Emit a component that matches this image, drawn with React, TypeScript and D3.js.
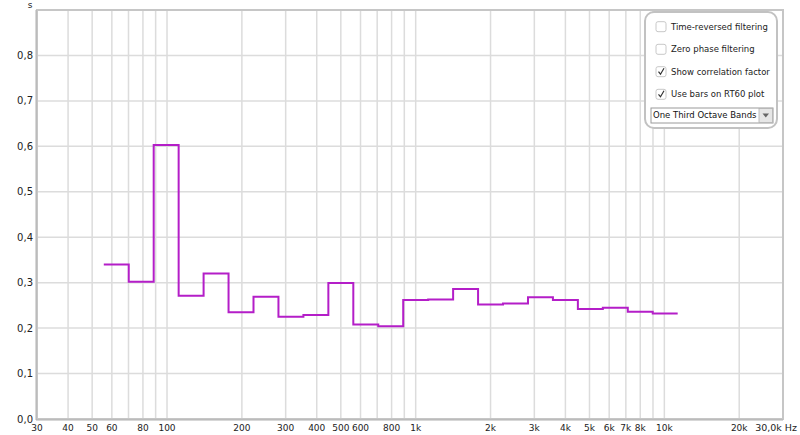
import React from "react";
import * as d3 from "d3";

const bandLabels = ["63", "80", "100", "125", "160", "200", "250", "315", "400", "500", "630", "800", "1k", "1.25k", "1.6k", "2k", "2.5k", "3.15k", "4k", "5k", "6.3k", "8k", "10k"];
const bandIndex = [-12, -11, -10, -9, -8, -7, -6, -5, -4, -3, -2, -1, 0, 1, 2, 3, 4, 5, 6, 7, 8, 9, 10];
const rt60 = [0.340, 0.302, 0.603, 0.271, 0.320, 0.235, 0.269, 0.225, 0.229, 0.299, 0.208, 0.204, 0.262, 0.263, 0.286, 0.252, 0.254, 0.268, 0.262, 0.242, 0.245, 0.236, 0.232];

const gridFreqs = [40, 50, 60, 70, 80, 90, 100, 200, 300, 400, 500, 600, 700, 800, 900, 1000, 2000, 3000, 4000, 5000, 6000, 7000, 8000, 9000, 10000, 20000];
const xTickValues = [30, 40, 50, 60, 80, 100, 200, 300, 400, 500, 600, 800, 1000, 2000, 3000, 4000, 5000, 6000, 7000, 8000, 10000, 20000];
const xTickLabels = ["30", "40", "50", "60", "80", "100", "200", "300", "400", "500", "600", "800", "1k", "2k", "3k", "4k", "5k", "6k", "7k", "8k", "10k", "20k"];
const yTickValues = [0, 0.1, 0.2, 0.3, 0.4, 0.5, 0.6, 0.7, 0.8];
const yTickLabels = ["0,0", "0,1", "0,2", "0,3", "0,4", "0,5", "0,6", "0,7", "0,8"];
const legendItems = ["Time-reversed filtering", "Zero phase filtering", "Show correlation factor", "Use bars on RT60 plot"];
const legendChecked = [false, false, true, true];
const dropdownLabel = "One Third Octave Bands";

const W = 800, H = 435;
const L = 37, R = 783, T = 10, B = 419;

export default function App() {
  const x = d3.scaleLog().domain([30, 30000]).range([L, R]);
  const y = d3.scaleLinear().domain([0, 0.9]).range([B, T]);
  const pts: [number, number][] = [];
  bandIndex.forEach((k, i) => {
    const lo = 1000 * Math.pow(2, (k - 0.5) / 3);
    const hi = 1000 * Math.pow(2, (k + 0.5) / 3);
    pts.push([lo, rt60[i]]);
    pts.push([hi, rt60[i]]);
  });
  const line = d3.line<[number, number]>().x(d => x(d[0])).y(d => y(d[1]));
  const font = "'DejaVu Sans', sans-serif";
  const rowY = [26.7, 49.3, 71.7, 94.3];
  return (
    <div style={{ position: "fixed", left: 0, top: 0, width: W, height: H, background: "#fff" }}>
      <svg width={W} height={H} style={{ display: "block" }} fontFamily={font}>
        <rect x={0} y={0} width={W} height={H} fill="#fff" />
        {gridFreqs.map((f, i) => (
          <line key={"gx" + i} x1={x(f)} x2={x(f)} y1={T} y2={B} stroke="#dcdcdc" strokeWidth={1.5} />
        ))}
        {yTickValues.slice(1).map((v, i) => (
          <line key={"gy" + i} x1={L} x2={R} y1={y(v)} y2={y(v)} stroke="#dcdcdc" strokeWidth={1.5} />
        ))}
        <rect x={L} y={T} width={R - L} height={B - T} fill="none" stroke="#c6c6c6" strokeWidth={2} />
        <line x1={L - 1} x2={L - 1} y1={T} y2={B + 1} stroke="#b0b0b0" strokeWidth={1} />
        <line x1={L - 1} x2={R} y1={B + 1} y2={B + 1} stroke="#b0b0b0" strokeWidth={1} />
        <path d={line(pts) || ""} fill="none" stroke="#b41ec8" strokeWidth={2} />
        {yTickValues.map((v, i) => (
          <text key={"yl" + i} x={33} y={y(v)} dy="0.35em" textAnchor="end" fontSize={10} fill="#222">{yTickLabels[i]}</text>
        ))}
        <text x={30} y={8} textAnchor="middle" fontSize={9} fill="#222">s</text>
        {xTickValues.map((v, i) => (
          <text key={"xl" + i} x={x(v)} y={431} textAnchor="middle" fontSize={9} fill="#222">{xTickLabels[i]}</text>
        ))}
        <text x={797} y={431} textAnchor="end" fontSize={9.5} fill="#222">30,0k Hz</text>
        <g>
          <rect x={645} y={12} width={132} height={116} rx={9} fill="#fff" stroke="#c2c2c2" strokeWidth={2} />
          {legendItems.map((t, i) => (
            <g key={"lg" + i}>
              <rect x={656} y={rowY[i] - 5} width={10} height={10} rx={2} fill="#fff" stroke="#c8c8c8" strokeWidth={1} />
              {legendChecked[i] && (
                <path d={`M${658.5},${rowY[i]} L${660.5},${rowY[i] + 2.5} L${664},${rowY[i] - 3.5}`} fill="none" stroke="#333" strokeWidth={1.2} />
              )}
              <text x={671} y={rowY[i]} dy="0.35em" fontSize={8.5} fill="#222">{t}</text>
            </g>
          ))}
          <rect x={651} y={108} width={122} height={15} fill="#fff" stroke="#9a9a9a" strokeWidth={1} />
          <rect x={759} y={108.5} width={13.5} height={14} fill="#e6e6e6" stroke="#b0b0b0" strokeWidth={0.8} />
          <path d="M762.5,113.5 L769,113.5 L765.75,117.5 Z" fill="#666" />
          <text x={653} y={115.5} dy="0.35em" fontSize={8.5} fill="#111">{dropdownLabel}</text>
        </g>
      </svg>
    </div>
  );
}
